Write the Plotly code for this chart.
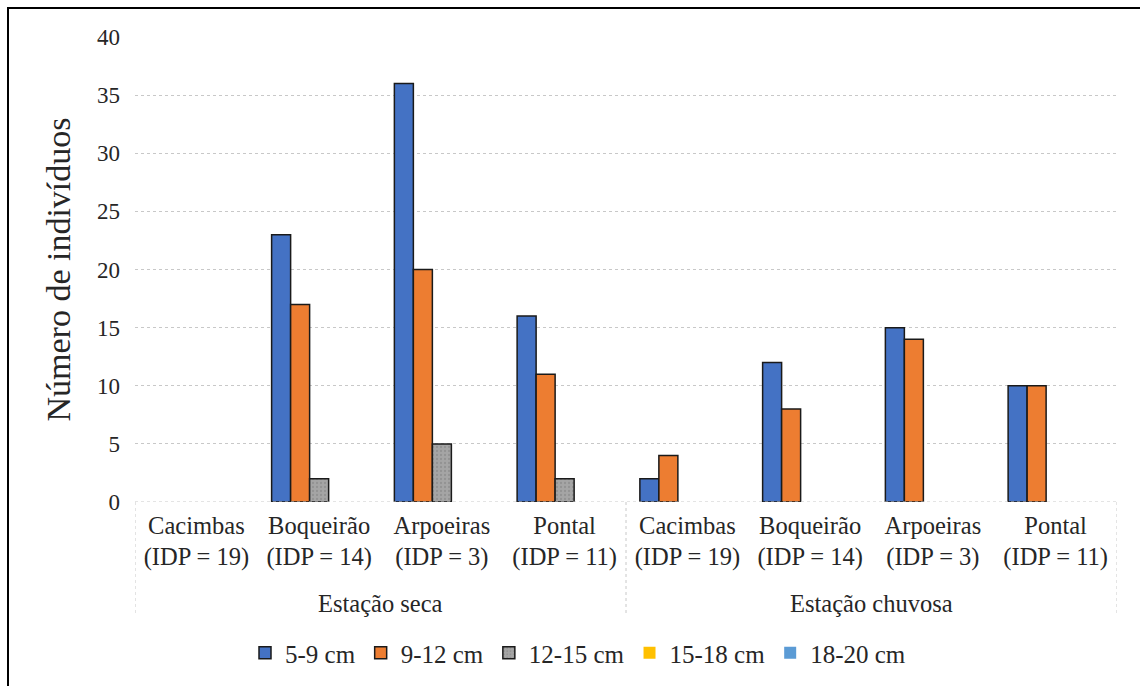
import plotly.graph_objects as go

# Sampling sites (x categories) for each season
sites = ["Cacimbas<br>(IDP = 19)", "Boqueirão<br>(IDP = 14)", "Arpoeiras<br>(IDP = 3)", "Pontal<br>(IDP = 11)"]
seasons = ["Estação seca", "Estação chuvosa"]
tick_labels = sites + sites

# Counts per size class, seca sites first then chuvosa sites
size_5_9 = [0, 23, 36, 16, 2, 12, 15, 10]
size_9_12 = [0, 17, 20, 11, 4, 8, 14, 10]
size_12_15 = [0, 2, 5, 2, 0, 0, 0, 0]
size_15_18 = [0, 0, 0, 0, 0, 0, 0, 0]
size_18_20 = [0, 0, 0, 0, 0, 0, 0, 0]

series_names = ["5-9 cm", "9-12 cm", "12-15 cm", "15-18 cm", "18-20 cm"]
series_values = [size_5_9, size_9_12, size_12_15, size_15_18, size_18_20]
series_colors = ["#4472C4", "#ED7D31", "#A5A5A5", "#FFC000", "#5B9BD5"]

FONT = "Liberation Serif"
TXT = "#262626"
positions = list(range(len(tick_labels)))

fig = go.Figure()
for i, (name, vals, col) in enumerate(zip(series_names, series_values, series_colors)):
    outlined = i < 3
    marker = dict(color=col,
                  line=dict(color="#1a1a1a", width=1.5 if outlined else 0))
    if name == "12-15 cm":
        marker["pattern"] = dict(shape=".", fgcolor="#7f7f7f", bgcolor=col,
                                 size=4, solidity=0.25)
    # empty classes leave no visible bar
    shown = [v if v else None for v in vals]
    fig.add_trace(go.Bar(x=positions, y=shown, name=name, marker=marker))

# Plot-area geometry helpers (paper coordinates)
L, R, T, B = 135, 1117, 37, 502
def px_x(p):
    return (p - L) / (R - L)
def px_y(p):
    return (B - p) / (B - T)

shapes = []
# baseline
shapes.append(dict(type="line", xref="x", yref="y", x0=-0.5, x1=len(positions) - 0.5,
                   y0=0, y1=0, line=dict(color="#c8c8c8", width=1, dash="dot")))
# group dividers below the axis
for xd in [-0.5, 3.5, 7.5]:
    shapes.append(dict(type="line", xref="x", yref="paper", x0=xd, x1=xd,
                       y0=0, y1=px_y(615), line=dict(color="#c8c8c8", width=1, dash="dot")))
# outer frame (left and top edges)
shapes.append(dict(type="line", xref="paper", yref="paper",
                   x0=px_x(8), x1=px_x(8), y0=px_y(7), y1=px_y(720),
                   line=dict(color="black", width=2)))
shapes.append(dict(type="line", xref="paper", yref="paper",
                   x0=px_x(7), x1=px_x(1180), y0=px_y(8), y1=px_y(8),
                   line=dict(color="black", width=2)))

annotations = []
for k, s in enumerate(seasons):
    annotations.append(dict(text=s, xref="x", yref="paper", x=1.5 + 4 * k, y=px_y(603),
                            yanchor="middle", xanchor="center", showarrow=False,
                            font=dict(family=FONT, size=24.5, color=TXT)))

fig.update_layout(
    width=1140, height=686,
    margin=dict(l=L, r=1140 - R, t=T, b=686 - B, autoexpand=False),
    paper_bgcolor="white", plot_bgcolor="white",
    font=dict(family=FONT, color=TXT),
    barmode="group", bargap=0.226, bargroupgap=0,
    showlegend=True,
    legend=dict(orientation="h", x=px_x(578), xanchor="center", y=px_y(653), yanchor="middle",
                font=dict(family=FONT, size=25, color=TXT), traceorder="normal",
                itemwidth=30),
    shapes=shapes,
    annotations=annotations,
    xaxis=dict(tickmode="array", tickvals=positions, ticktext=tick_labels,
               range=[-0.5, len(positions) - 0.5], showgrid=False, zeroline=False,
               showline=False, ticks="", tickfont=dict(family=FONT, size=24.5, color=TXT),
               ticklabelstandoff=6, automargin=False),
    yaxis=dict(range=[0, 40], dtick=5, tick0=0, showgrid=True, gridcolor="#c8c8c8",
               griddash="dot", gridwidth=1, zeroline=False, showline=False, ticks="",
               tickfont=dict(family=FONT, size=23, color=TXT), ticklabelstandoff=14,
               automargin=False,
               title=dict(text="Número de indivíduos", standoff=16,
                          font=dict(family=FONT, size=34, color=TXT))),
)

fig.write_html("out.html")
